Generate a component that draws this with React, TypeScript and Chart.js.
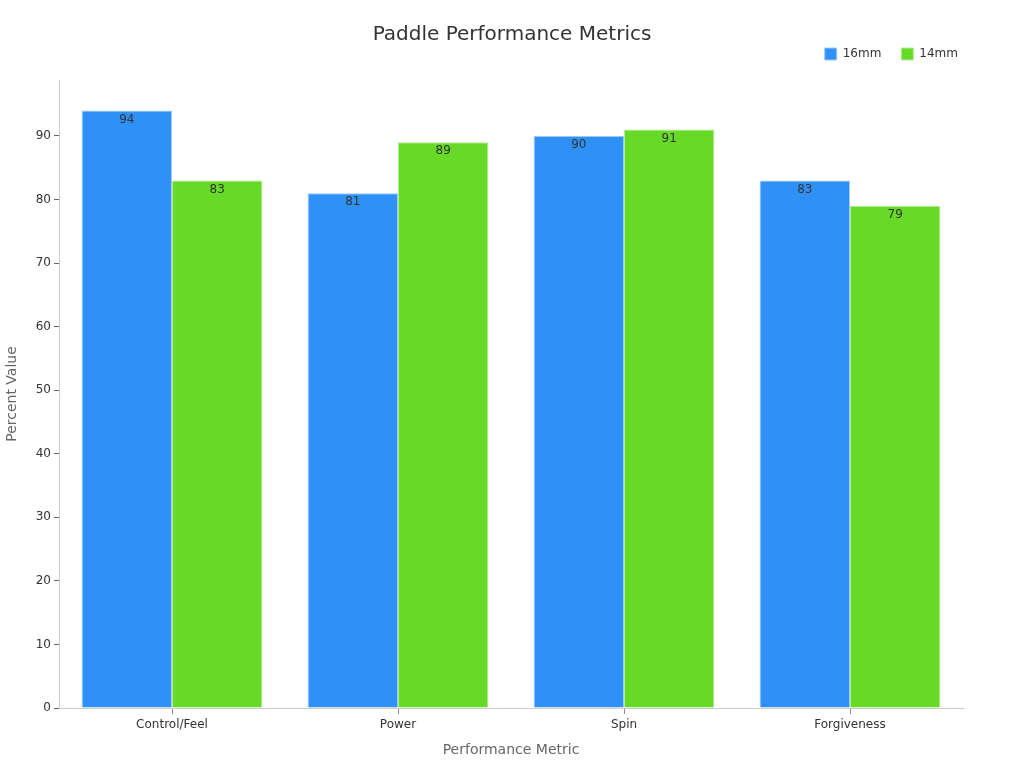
import { useEffect, useRef } from 'react';
import { Chart, registerables } from 'chart.js';

Chart.register(...registerables);

const categories = ['Control/Feel', 'Power', 'Spin', 'Forgiveness'];
const series16 = [94, 81, 90, 83];
const series14 = [83, 89, 91, 79];
const seriesNames = ['16mm', '14mm'];

const FONT = "'DejaVu Sans', sans-serif";

// value labels drawn just inside the top of each bar
const barLabels = {
  id: 'barLabels',
  afterDatasetsDraw(chart: any) {
    const ctx = chart.ctx;
    ctx.save();
    ctx.font = `12px ${FONT}`;
    ctx.fillStyle = '#333';
    ctx.textAlign = 'center';
    ctx.textBaseline = 'middle';
    chart.data.datasets.forEach((ds: any, i: number) => {
      chart.getDatasetMeta(i).data.forEach((bar: any, j: number) => {
        ctx.fillText(String(ds.data[j]), bar.x, bar.y + 9);
      });
    });
    ctx.restore();
  },
};

// title centred on the whole canvas, legend pushed right, extra room under legend
const layoutTweaks = {
  id: 'layoutTweaks',
  afterInit(chart: any) {
    const legend = chart.legend;
    if (legend) {
      const fit = legend.fit.bind(legend);
      legend.fit = () => {
        fit();
        legend.height += 10;
      };
    }
  },
  afterLayout(chart: any) {
    if (chart.titleBlock) {
      chart.titleBlock.left = 0;
      chart.titleBlock.right = chart.width;
    }
    if (chart.legend) {
      chart.legend.right += 15;
      chart.legend.left += 15;
      chart.legend.legendHitBoxes?.forEach((b: any) => { b.left += 15; });
    }
  },
};

export default function App() {
  const canvasRef = useRef<HTMLCanvasElement>(null);
  const chartRef = useRef<Chart | null>(null);

  useEffect(() => {
    document.body.style.margin = '0';
    if (!canvasRef.current) return;
    if (chartRef.current) chartRef.current.destroy();

    chartRef.current = new Chart(canvasRef.current, {
      type: 'bar',
      data: {
        labels: categories,
        datasets: [
          {
            label: seriesNames[0],
            data: series16,
            backgroundColor: '#2f91f7',
            borderColor: '#9ccaf9',
            borderWidth: 1,
          },
          {
            label: seriesNames[1],
            data: series14,
            backgroundColor: '#66da27',
            borderColor: '#b4ec94',
            borderWidth: 1,
          },
        ],
      },
      options: {
        animation: false,
        responsive: true,
        maintainAspectRatio: false,
        layout: { padding: { left: 0, right: 61, top: 0, bottom: 0 } },
        datasets: { bar: { categoryPercentage: 0.8, barPercentage: 1.0 } },
        plugins: {
          title: {
            display: true,
            text: 'Paddle Performance Metrics',
            color: '#333',
            font: { family: FONT, size: 20, weight: 'normal' },
            padding: { top: 23, bottom: -19 },
          },
          legend: {
            position: 'top',
            align: 'end',
            labels: {
              color: '#333',
              font: { family: FONT, size: 12 },
              boxWidth: 12,
              boxHeight: 12,
              padding: 20,
            },
          },
          tooltip: { enabled: false },
        },
        scales: {
          x: {
            afterFit: (s: any) => { s.height = 60; },
            border: { color: '#ccc' },
            grid: { display: true, drawOnChartArea: false, drawTicks: true, tickLength: 6, color: '#888', offset: false },
            ticks: { color: '#333', font: { family: FONT, size: 12 }, padding: 4 },
            title: {
              display: true,
              text: 'Performance Metric',
              color: '#666',
              font: { family: FONT, size: 14 },
              padding: { top: 6, bottom: 9 },
            },
          },
          y: {
            min: 0,
            max: 98.8,
            afterFit: (s: any) => { s.width = 59; },
            afterBuildTicks: (s: any) => {
              s.ticks = s.ticks.filter((t: any) => t.value % 10 === 0);
            },
            border: { color: '#ccc' },
            grid: { display: true, drawOnChartArea: false, drawTicks: true, tickLength: 5, color: '#666' },
            ticks: { stepSize: 10, color: '#333', font: { family: FONT, size: 12 }, padding: 3 },
            title: {
              display: true,
              text: 'Percent Value',
              color: '#666',
              font: { family: FONT, size: 14 },
              padding: { bottom: 6 },
            },
          },
        },
      },
      plugins: [barLabels, layoutTweaks],
    } as any);

    return () => {
      if (chartRef.current) {
        chartRef.current.destroy();
        chartRef.current = null;
      }
    };
  }, []);

  return (
    <div style={{ width: 1024, height: 768, background: '#fff' }}>
      <canvas ref={canvasRef} />
    </div>
  );
}
